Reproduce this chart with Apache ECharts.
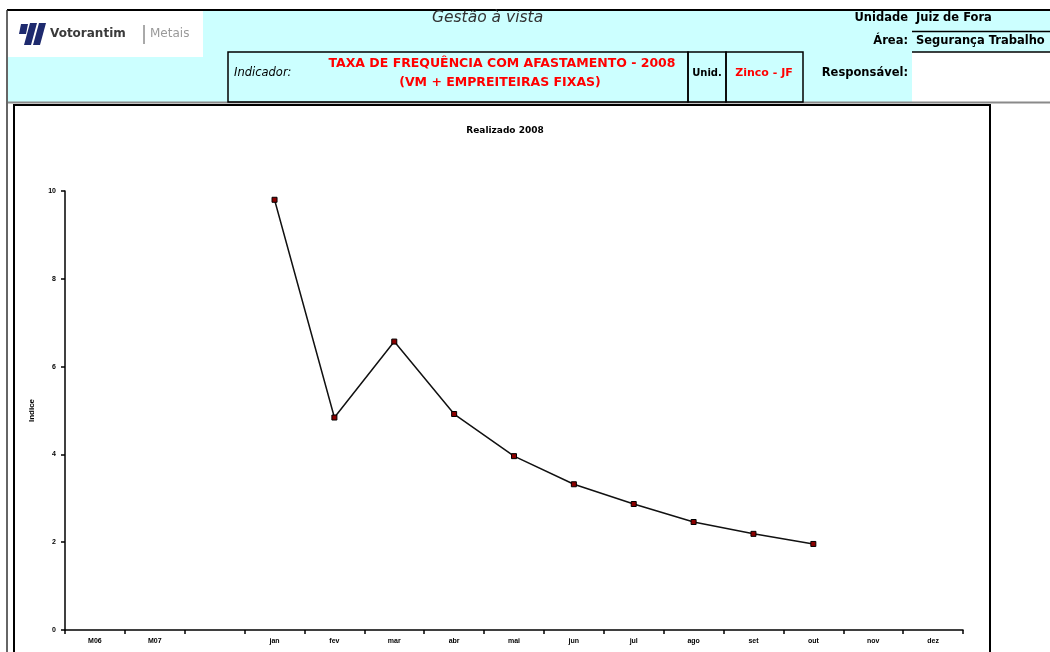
<!DOCTYPE html>
<html>
<head>
<meta charset="utf-8">
<script src="https://cdn.jsdelivr.net/npm/echarts@6/dist/echarts.min.js"></script>
<style>
  html, body { margin: 0; padding: 0; background: #ffffff; }
  #chart { width: 1050px; height: 652px; }
</style>
</head>
<body>
<div id="chart"></div>
<script>
// Monthly frequency rate (accidents with lost time), plus previous-year averages
const categories = ['M06', 'M07', '', 'jan', 'fev', 'mar', 'abr', 'mai', 'jun', 'jul', 'ago', 'set', 'out', 'nov', 'dez'];
const realizado = [null, null, null, 9.8, 4.84, 6.57, 4.92, 3.96, 3.32, 2.87, 2.46, 2.19, 1.96, null, null];
const yTicks = { min: 0, max: 10, interval: 2 };

const FONT = '"Liberation Sans", Arial, sans-serif';
const WIDE = '"DejaVu Sans", "Liberation Sans", sans-serif';
const CYAN = '#CCFFFF';

const chart = echarts.init(document.getElementById('chart'), null, { renderer: 'canvas' });

function txt(x, y, text, opts) {
  return {
    type: 'text', z: 5,
    style: Object.assign({
      x: x, y: y, text: text, fill: '#000', font: 'bold 11px ' + WIDE,
      textVerticalAlign: 'middle', textAlign: 'left'
    }, opts || {})
  };
}
function rect(x, y, w, h, style, z) {
  return { type: 'rect', z: z == null ? -5 : z, shape: { x: x, y: y, width: w, height: h }, style: style };
}
function line(x1, y1, x2, y2, stroke, w, z) {
  return { type: 'line', z: z == null ? 4 : z, shape: { x1: x1, y1: y1, x2: x2, y2: y2 }, style: { stroke: stroke, lineWidth: w } };
}

const headerGraphics = [
  // header band
  rect(8, 11, 1042, 91, { fill: CYAN, stroke: null }, -10),
  rect(8, 11, 195, 46, { fill: '#ffffff', stroke: null }, -9),
  rect(912, 52, 138, 50, { fill: '#ffffff', stroke: null }, -9),
  line(7, 10, 1050, 10, '#000', 2),
  line(7, 10, 7, 652, '#333', 1.5),
  line(8, 102.5, 1050, 102.5, '#8a8a8a', 2),
  // indicator boxes
  rect(228, 52, 460, 50, { fill: null, stroke: '#000', lineWidth: 1.5 }, 4),
  rect(688, 52, 38, 50, { fill: null, stroke: '#000', lineWidth: 1.5 }, 4),
  rect(726, 52, 77, 50, { fill: null, stroke: '#000', lineWidth: 1.5 }, 4),
  line(912, 31.5, 1050, 31.5, '#000', 1.5),
  line(912, 52, 1050, 52, '#000', 1.5),
  // chart frame
  rect(14, 105, 976, 560, { fill: '#ffffff', stroke: '#000', lineWidth: 2 }, -8),
  // logo mark
  { type: 'polygon', z: 5, shape: { points: [[21, 24], [28, 24], [26, 34], [19, 34]] }, style: { fill: '#1e2a6e' } },
  { type: 'polygon', z: 5, shape: { points: [[30, 23], [37, 23], [31, 45], [24, 45]] }, style: { fill: '#1e2a6e' } },
  { type: 'polygon', z: 5, shape: { points: [[39, 23], [46, 23], [40, 45], [33, 45]] }, style: { fill: '#1e2a6e' } },
  txt(50, 34, 'Votorantim', { font: 'bold 12px ' + WIDE, fill: '#3a3a3a' }),
  line(144, 25, 144, 44, '#555', 1),
  txt(150, 34, 'Metais', { font: '12px ' + WIDE, fill: '#9a9a9a' }),
  // header texts
  txt(432, 18, 'Gestão à vista', { font: 'italic 15.5px ' + WIDE, fill: '#333' }),
  txt(908, 18, 'Unidade', { textAlign: 'right', font: 'bold 11.5px ' + WIDE }),
  txt(916, 18, 'Juiz de Fora', { font: 'bold 11.5px ' + WIDE }),
  txt(908, 41, 'Área:', { textAlign: 'right', font: 'bold 11.5px ' + WIDE }),
  txt(916, 41, 'Segurança Trabalho', { font: 'bold 11.5px ' + WIDE }),
  txt(234, 73, 'Indicador:', { font: 'italic 11.5px ' + WIDE }),
  txt(502, 64, 'TAXA DE FREQUÊNCIA COM AFASTAMENTO - 2008', { textAlign: 'center', fill: '#ff0000', font: 'bold 12.5px ' + WIDE }),
  txt(500, 83, '(VM + EMPREITEIRAS FIXAS)', { textAlign: 'center', fill: '#ff0000', font: 'bold 12.5px ' + WIDE }),
  txt(707, 73, 'Unid.', { textAlign: 'center', font: 'bold 10px ' + WIDE }),
  txt(764, 73, 'Zinco - JF', { textAlign: 'center', fill: '#ff0000', font: 'bold 11px ' + WIDE }),
  txt(908, 73, 'Responsável:', { textAlign: 'right', font: 'bold 11.5px ' + WIDE })
];

chart.setOption({
  backgroundColor: '#ffffff',
  animation: false,
  title: {
    text: 'Realizado 2008',
    left: 500, top: 121,
    textAlign: 'center',
    textStyle: { fontFamily: WIDE, fontSize: 9, fontWeight: 'bold', color: '#000' }
  },
  grid: { left: 65, right: 87, top: 191, bottom: 22, containLabel: false },
  xAxis: {
    type: 'category',
    data: categories,
    boundaryGap: true,
    axisLine: { lineStyle: { color: '#000', width: 1.5 } },
    axisTick: { show: true, length: 4, lineStyle: { color: '#000', width: 1.5 } },
    axisLabel: { interval: 0, margin: 8, fontFamily: FONT, fontSize: 7, fontWeight: 'bold', color: '#000' },
    splitLine: { show: false }
  },
  yAxis: {
    type: 'value',
    min: yTicks.min, max: yTicks.max, interval: yTicks.interval,
    name: 'Indice',
    nameLocation: 'middle',
    nameGap: 29,
    nameRotate: 90,
    nameTextStyle: { fontFamily: FONT, fontSize: 8, fontWeight: 'bold', color: '#000' },
    axisLine: { show: true, lineStyle: { color: '#000', width: 1.5 } },
    axisTick: { show: true, length: 4, lineStyle: { color: '#000', width: 1.5 } },
    axisLabel: { margin: 9, fontFamily: FONT, fontSize: 7, fontWeight: 'bold', color: '#000' },
    splitLine: { show: false }
  },
  series: [{
    name: 'Realizado',
    type: 'line',
    data: realizado,
    connectNulls: false,
    symbol: 'rect',
    symbolSize: 5,
    showAllSymbol: true,
    lineStyle: { color: '#111', width: 1.5 },
    itemStyle: { color: '#8b0000', borderColor: '#000', borderWidth: 1 },
    z: 3
  }],
  graphic: { elements: headerGraphics }
});
</script>
</body>
</html>
